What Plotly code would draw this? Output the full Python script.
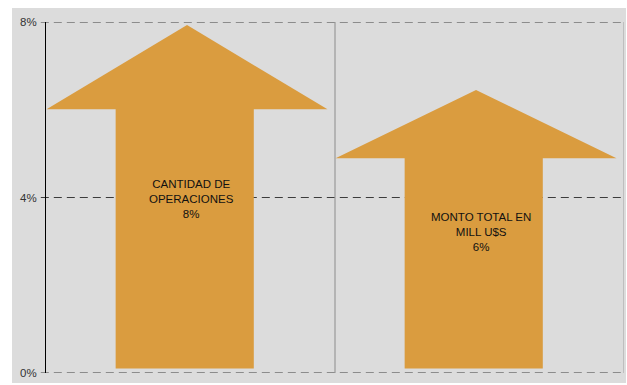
import plotly.graph_objects as go

categories = ["CANTIDAD DE<br>OPERACIONES", "MONTO TOTAL EN<br>MILL U$S"]
values = [7.93, 6.45]          # arrow tip, in %
value_labels = ["8%", "6%"]
tick_vals = [0, 4, 8]
tick_text = ["0%", "4%", "8%"]

ARROW = "#DA9C3F"
base = 0.1
head_frac = 0.245
head_hw = 0.486
shaft_hw = 0.239
c_off = -0.012
s_off = -0.008

fig = go.Figure()
# gray background panel
fig.add_shape(type="rect", xref="paper", yref="paper", x0=-0.0588, x1=1.0035, y0=-0.0285, y1=1.04,
              fillcolor="#DCDCDC", line=dict(width=0), layer="below")
# dashed gridlines
for t in tick_vals:
    fig.add_shape(type="line", xref="paper", yref="y", x0=-0.009, x1=1, y0=t, y1=t,
                  line=dict(color="#3C3C3C", width=1, dash="8px,5px"), layer="below")

for i, (cat, v, lab) in enumerate(zip(categories, values, value_labels)):
    c = i + c_off
    sc = c + s_off
    shoulder = v - head_frac * (v - base)
    xs = [sc - shaft_hw, sc - shaft_hw, c - head_hw, c, c + head_hw, sc + shaft_hw, sc + shaft_hw, sc - shaft_hw]
    ys = [base, shoulder, shoulder, v, shoulder, shoulder, base, base]
    fig.add_trace(go.Scatter(x=xs, y=ys, mode="lines", fill="toself", fillcolor=ARROW,
                             line=dict(width=0, color=ARROW), hoverinfo="skip", showlegend=False))
    fig.add_annotation(x=i + 0.005, y=v / 2, text=f"{cat}<br>{lab}", showarrow=False,
                       font=dict(family="Liberation Sans, Arial", size=11.5, color="#111"),
                       align="center")

# separator and right border
fig.add_shape(type="line", xref="x", yref="paper", x0=0.5, x1=0.5, y0=0, y1=1,
              line=dict(color="#8C8C8C", width=1))
fig.add_shape(type="line", xref="x", yref="paper", x0=1.5, x1=1.5, y0=0, y1=1,
              line=dict(color="#A0A0A0", width=1))

fig.update_layout(
    width=627, height=385,
    margin=dict(l=46, r=3, t=22, b=12),
    paper_bgcolor="white", plot_bgcolor="rgba(0,0,0,0)",
    font=dict(family="Liberation Sans, Arial", size=11.5, color="#333"),
    xaxis=dict(range=[-0.5, 1.5], showticklabels=False, showgrid=False, zeroline=False,
               showline=False, ticks=""),
    yaxis=dict(range=[0, 8], tickvals=tick_vals, ticktext=tick_text, showgrid=False,
               zeroline=False, showline=True, linecolor="black", linewidth=1,
               ticks="outside", ticklen=6, tickcolor="rgba(0,0,0,0)"),
)
fig.write_html("out.html")
